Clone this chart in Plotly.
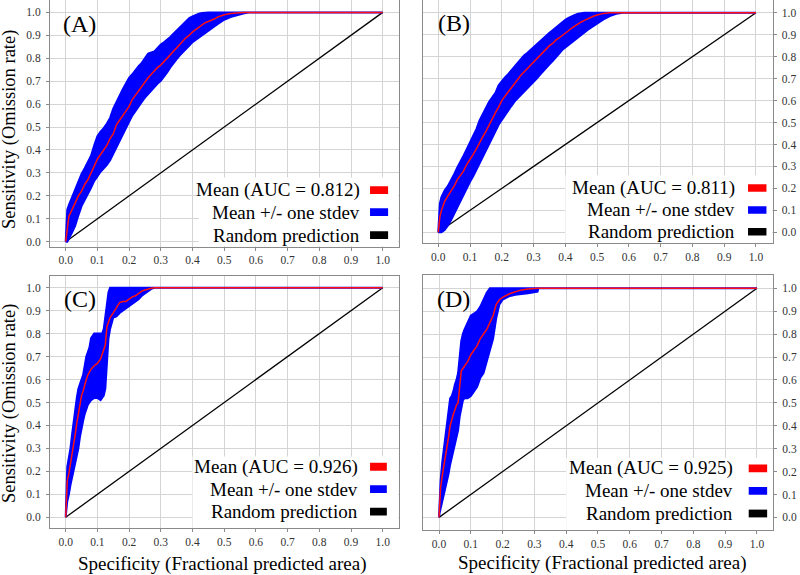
import plotly.graph_objects as go

SERIF = "Liberation Serif, Times New Roman, serif"

# ---------------- data ----------------
panel_labels = ["(A)", "(B)", "(C)", "(D)"]
auc_values = ["0.812", "0.811", "0.926", "0.925"]
tick_vals = [0.0, 0.1, 0.2, 0.3, 0.4, 0.5, 0.6, 0.7, 0.8, 0.9, 1.0]
random_x = [0.0, 1.0]
random_y = [0.0, 1.0]

# Panel A
x_A = [0, 0.005, 0.01, 0.02, 0.03, 0.04, 0.05, 0.06, 0.07, 0.08, 0.09, 0.10,
       0.11, 0.12, 0.13, 0.14, 0.15, 0.16, 0.17, 0.18, 0.19, 0.20, 0.21, 0.22,
       0.23, 0.24, 0.25, 0.26, 0.27, 0.28, 0.29, 0.30, 0.31, 0.32, 0.33, 0.34,
       0.35, 0.36, 0.37, 0.38, 0.39, 0.40, 0.41, 0.42, 0.43, 0.44, 0.45, 0.46,
       0.47, 0.48, 0.49, 0.50, 0.52, 0.54, 0.56, 0.58, 0.60, 1.0]
mean_A = [0, 0.07, 0.11, 0.14, 0.17, 0.20, 0.22, 0.25, 0.27, 0.30, 0.33, 0.36,
          0.38, 0.40, 0.42, 0.45, 0.47, 0.51, 0.53, 0.55, 0.57, 0.59, 0.62, 0.64,
          0.66, 0.68, 0.70, 0.715, 0.73, 0.745, 0.76, 0.77, 0.785, 0.80, 0.815, 0.83,
          0.845, 0.86, 0.875, 0.89, 0.90, 0.915, 0.925, 0.935, 0.945, 0.955, 0.96, 0.965,
          0.972, 0.98, 0.985, 0.99, 0.995, 0.998, 1.0, 1.0, 1.0, 1.0]
hi_A = [0, 0.14, 0.16, 0.195, 0.225, 0.26, 0.295, 0.32, 0.35, 0.375, 0.42, 0.46,
        0.48, 0.495, 0.515, 0.54, 0.58, 0.61, 0.64, 0.665, 0.69, 0.715, 0.73, 0.75,
        0.765, 0.78, 0.80, 0.82, 0.825, 0.83, 0.845, 0.86, 0.87, 0.88, 0.893, 0.907,
        0.92, 0.935, 0.95, 0.963, 0.975, 0.983, 0.99, 0.994, 0.997, 1.0, 1.0, 1.0,
        1.0, 1.0, 1.0, 1.0, 1.0, 1.0, 1.0, 1.0, 1.0, 1.0]
lo_A = [0, 0.0, 0.01, 0.04, 0.07, 0.115, 0.155, 0.185, 0.21, 0.235, 0.265, 0.285,
        0.305, 0.32, 0.335, 0.355, 0.38, 0.41, 0.44, 0.47, 0.495, 0.523, 0.55, 0.57,
        0.59, 0.61, 0.628, 0.645, 0.66, 0.675, 0.69, 0.702, 0.72, 0.738, 0.76, 0.78,
        0.796, 0.813, 0.828, 0.842, 0.855, 0.87, 0.88, 0.89, 0.90, 0.91, 0.92, 0.93,
        0.94, 0.95, 0.96, 0.968, 0.98, 0.988, 0.995, 1.0, 1.0, 1.0]

# Panel B
x_B = [0, 0.005, 0.01, 0.02, 0.03, 0.04, 0.05, 0.06, 0.07, 0.08, 0.09, 0.10,
       0.11, 0.12, 0.13, 0.14, 0.15, 0.16, 0.17, 0.18, 0.19, 0.20, 0.21, 0.22,
       0.23, 0.24, 0.25, 0.26, 0.27, 0.28, 0.29, 0.30, 0.31, 0.32, 0.33, 0.34,
       0.35, 0.36, 0.37, 0.38, 0.39, 0.40, 0.41, 0.42, 0.43, 0.44, 0.45, 0.46,
       0.47, 0.48, 0.49, 0.50, 0.52, 0.54, 0.56, 0.58, 0.60, 1.0]
mean_B = [0, 0.07, 0.10, 0.14, 0.165, 0.185, 0.21, 0.24, 0.26, 0.28, 0.31, 0.33,
          0.355, 0.38, 0.41, 0.435, 0.46, 0.49, 0.52, 0.545, 0.57, 0.60, 0.62, 0.64,
          0.66, 0.68, 0.70, 0.715, 0.73, 0.745, 0.76, 0.775, 0.79, 0.805, 0.82, 0.835,
          0.85, 0.86, 0.875, 0.885, 0.895, 0.905, 0.918, 0.93, 0.94, 0.95, 0.958, 0.965,
          0.972, 0.98, 0.985, 0.99, 0.997, 1.0, 1.0, 1.0, 1.0, 1.0]
hi_B = [0, 0.13, 0.16, 0.19, 0.21, 0.235, 0.265, 0.295, 0.32, 0.35, 0.38, 0.41,
        0.435, 0.47, 0.51, 0.54, 0.57, 0.595, 0.615, 0.635, 0.67, 0.69, 0.705, 0.72,
        0.74, 0.755, 0.772, 0.79, 0.805, 0.817, 0.83, 0.845, 0.86, 0.873, 0.885, 0.897,
        0.909, 0.92, 0.933, 0.945, 0.958, 0.968, 0.977, 0.985, 0.99, 0.995, 0.998, 1.0,
        1.0, 1.0, 1.0, 1.0, 1.0, 1.0, 1.0, 1.0, 1.0, 1.0]
lo_B = [0, 0.0, 0.0, 0.01, 0.03, 0.055, 0.085, 0.115, 0.145, 0.17, 0.20, 0.23,
        0.255, 0.285, 0.315, 0.34, 0.37, 0.40, 0.43, 0.46, 0.49, 0.51, 0.53, 0.555,
        0.575, 0.595, 0.612, 0.627, 0.64, 0.655, 0.67, 0.685, 0.70, 0.717, 0.735, 0.75,
        0.765, 0.78, 0.795, 0.813, 0.83, 0.84, 0.852, 0.864, 0.875, 0.886, 0.898, 0.91,
        0.922, 0.932, 0.942, 0.952, 0.97, 0.985, 0.995, 1.0, 1.0, 1.0]

# Panel C
x_C = [0, 0.002, 0.005, 0.01, 0.015, 0.02, 0.025, 0.03, 0.035, 0.04, 0.045, 0.05,
       0.055, 0.06, 0.065, 0.07, 0.075, 0.08, 0.09, 0.10, 0.11, 0.115, 0.12, 0.125,
       0.13, 0.135, 0.14, 0.15, 0.16, 0.17, 0.18, 0.19, 0.20, 0.21, 0.22, 0.23,
       0.24, 0.25, 0.26, 0.27, 0.28, 1.0]
mean_C = [0, 0.10, 0.16, 0.19, 0.23, 0.27, 0.31, 0.36, 0.41, 0.45, 0.50, 0.53,
          0.55, 0.58, 0.60, 0.62, 0.635, 0.645, 0.66, 0.67, 0.69, 0.71, 0.73, 0.75,
          0.83, 0.85, 0.87, 0.89, 0.915, 0.935, 0.94, 0.94, 0.95, 0.96, 0.965, 0.975,
          0.985, 0.99, 0.995, 0.998, 1.0, 1.0]
hi_C = [0, 0.16, 0.22, 0.26, 0.30, 0.36, 0.42, 0.47, 0.52, 0.56, 0.58, 0.60,
        0.62, 0.66, 0.70, 0.72, 0.74, 0.78, 0.80, 0.80, 0.80, 0.80, 0.82, 0.88,
        0.94, 0.98, 1.0, 1.0, 1.0, 1.0, 1.0, 1.0, 1.0, 1.0, 1.0, 1.0,
        1.0, 1.0, 1.0, 1.0, 1.0, 1.0]
lo_C = [0, 0.03, 0.07, 0.10, 0.14, 0.17, 0.20, 0.23, 0.27, 0.30, 0.35, 0.39,
        0.42, 0.45, 0.47, 0.49, 0.50, 0.51, 0.52, 0.52, 0.51, 0.52, 0.53, 0.56,
        0.67, 0.78, 0.82, 0.87, 0.875, 0.89, 0.90, 0.91, 0.92, 0.93, 0.94, 0.95,
        0.965, 0.975, 0.985, 0.995, 1.0, 1.0]

# Panel D
x_D = [0, 0.002, 0.005, 0.01, 0.015, 0.02, 0.025, 0.03, 0.035, 0.04, 0.045, 0.05,
       0.055, 0.06, 0.065, 0.07, 0.075, 0.08, 0.09, 0.10, 0.11, 0.12, 0.13, 0.14,
       0.15, 0.16, 0.17, 0.18, 0.19, 0.20, 0.22, 0.24, 0.26, 0.28, 0.30, 0.31,
       0.312, 1.0]
mean_D = [0, 0.07, 0.13, 0.18, 0.22, 0.27, 0.31, 0.35, 0.40, 0.43, 0.45, 0.47,
          0.49, 0.50, 0.56, 0.64, 0.65, 0.66, 0.68, 0.71, 0.73, 0.75, 0.78, 0.80,
          0.82, 0.85, 0.88, 0.93, 0.95, 0.96, 0.975, 0.985, 0.993, 0.997, 0.998, 1.0,
          1.0, 1.0]
hi_D = [0, 0.12, 0.16, 0.24, 0.30, 0.36, 0.42, 0.48, 0.52, 0.53, 0.55, 0.58,
        0.60, 0.63, 0.70, 0.77, 0.80, 0.82, 0.85, 0.88, 0.89, 0.90, 0.92, 0.95,
        0.98, 1.0, 1.0, 1.0, 1.0, 1.0, 1.0, 1.0, 1.0, 1.0, 1.0, 1.0,
        1.0, 1.0]
lo_D = [0, 0.02, 0.05, 0.08, 0.10, 0.13, 0.16, 0.19, 0.23, 0.27, 0.30, 0.32,
        0.35, 0.38, 0.44, 0.48, 0.51, 0.52, 0.52, 0.53, 0.55, 0.57, 0.61, 0.63,
        0.69, 0.73, 0.78, 0.87, 0.93, 0.95, 0.965, 0.972, 0.975, 0.978, 0.982, 0.985,
        1.0, 1.0]

legend_texts = ["Mean (AUC = {})", "Mean +/- one stdev", "Random prediction"]
legend_colors = ["#ff0000", "#0000ff", "#000000"]

# ---------------- layout geometry (pixels) ----------------
W, H = 800, 575
panels = [
    dict(x=x_A, m=mean_A, hi=hi_A, lo=lo_A, px=(50, 398.5), py=(0, 246.5),
         xr=[-0.0495, 1.0498], yr=[-0.021, 1.054], side="left",
         lab=(0.045, 0.948), leg_x=0.934, leg_y=[0.225, 0.129, 0.029],
         sw=(0.96, 1.017), box=(0.42, 0.28)),
    dict(x=x_B, m=mean_B, hi=hi_B, lo=lo_B, px=(423, 772.5), py=(0, 243.3),
         xr=[-0.048, 1.052], yr=[-0.050, 1.058], side="right",
         lab=(0.049, 0.953), leg_x=0.939, leg_y=[0.202, 0.102, 0.003],
         sw=(0.975, 1.033), box=(0.40, 0.26)),
    dict(x=x_C, m=mean_C, hi=hi_C, lo=lo_C, px=(50, 398.5), py=(276, 528.3),
         xr=[-0.0495, 1.0498], yr=[-0.048, 1.051], side="left",
         lab=(0.045, 0.951), leg_x=0.928, leg_y=[0.220, 0.123, 0.025],
         sw=(0.96, 1.013), box=(0.40, 0.265)),
    dict(x=x_D, m=mean_D, hi=hi_D, lo=lo_D, px=(423.3, 773), py=(275, 530),
         xr=[-0.0494, 1.0504], yr=[-0.055, 1.058], side="right",
         lab=(0.047, 0.953), leg_x=0.932, leg_y=[0.214, 0.116, 0.017],
         sw=(0.974, 1.032), box=(0.40, 0.26)),
]

fig = go.Figure()
shapes = []
annotations = []
layout_axes = {}

for i, p in enumerate(panels):
    n = "" if i == 0 else str(i + 1)
    xa, ya = "x" + n, "y" + n
    fig.add_trace(go.Scatter(x=random_x, y=random_y, mode="lines",
                             line=dict(color="#000000", width=1.3),
                             xaxis=xa, yaxis=ya, showlegend=False, hoverinfo="skip"))
    fig.add_trace(go.Scatter(x=p["x"] + p["x"][::-1], y=p["hi"] + p["lo"][::-1],
                             mode="lines", fill="toself", fillcolor="#0000ff",
                             line=dict(color="#0000ff", width=2.0),
                             xaxis=xa, yaxis=ya, showlegend=False, hoverinfo="skip"))
    fig.add_trace(go.Scatter(x=p["x"], y=p["m"], mode="lines",
                             line=dict(color="#ff1010", width=1.5),
                             xaxis=xa, yaxis=ya, showlegend=False))

    common = dict(showgrid=True, gridcolor="#d4d4d4", gridwidth=1, zeroline=False,
                  showline=True, linecolor="#8a8a8a", linewidth=1, mirror=True,
                  ticks="outside", ticklen=3, tickcolor="#8a8a8a",
                  tickvals=tick_vals, tickformat=".1f", automargin=False,
                  tickfont=dict(family=SERIF, size=11.5, color="#333333"))
    layout_axes["xaxis" + n] = dict(common, domain=[p["px"][0] / W, p["px"][1] / W],
                                    range=p["xr"], anchor=ya)
    layout_axes["yaxis" + n] = dict(common, domain=[1 - p["py"][1] / H, 1 - p["py"][0] / H],
                                    range=p["yr"], anchor=xa, side=p["side"],
                                    ticklabelstandoff=3)

    shapes.append(dict(type="rect", xref=xa, yref=ya, x0=p["box"][0], x1=p["xr"][1],
                       y0=p["yr"][0], y1=p["box"][1], fillcolor="white",
                       line=dict(width=0), layer="between"))
    for k in range(3):
        txt = legend_texts[k].format(auc_values[i]) if k == 0 else legend_texts[k]
        annotations.append(dict(x=p["leg_x"], y=p["leg_y"][k], xref=xa, yref=ya,
                                text=txt, showarrow=False, xanchor="right",
                                yanchor="middle",
                                font=dict(family=SERIF, size=19, color="#000000")))
        shapes.append(dict(type="rect", xref=xa, yref=ya, x0=p["sw"][0], x1=p["sw"][1],
                           y0=p["leg_y"][k] - 0.017, y1=p["leg_y"][k] + 0.017,
                           fillcolor=legend_colors[k], line=dict(width=0), layer="above"))
    annotations.append(dict(x=p["lab"][0], y=p["lab"][1], xref=xa, yref=ya,
                            text=panel_labels[i], showarrow=False, xanchor="center",
                            yanchor="middle",
                            font=dict(family=SERIF, size=24, color="#000000")))

ytitle = "Sensitivity (Omission rate)"
xtitle = "Specificity (Fractional predicted area)"
for yc in (130, 404):
    annotations.append(dict(x=9 / W, y=1 - yc / H, xref="paper", yref="paper",
                            text=ytitle, showarrow=False, textangle=-90,
                            xanchor="center", yanchor="middle",
                            font=dict(family=SERIF, size=18.5, color="#000000")))
for xc, yc in ((222.5, 563.5), (602.5, 562.5)):
    annotations.append(dict(x=xc / W, y=1 - yc / H, xref="paper", yref="paper",
                            text=xtitle, showarrow=False,
                            xanchor="center", yanchor="middle",
                            font=dict(family=SERIF, size=19, color="#000000")))

fig.update_layout(width=W, height=H, margin=dict(l=0, r=0, t=0, b=0),
                  paper_bgcolor="white", plot_bgcolor="white",
                  showlegend=False, shapes=shapes, annotations=annotations,
                  **layout_axes)

fig.write_html("out.html", config={"displayModeBar": False},
               post_script="document.body.style.margin='0px';"
                           "document.body.style.overflow='hidden';")
